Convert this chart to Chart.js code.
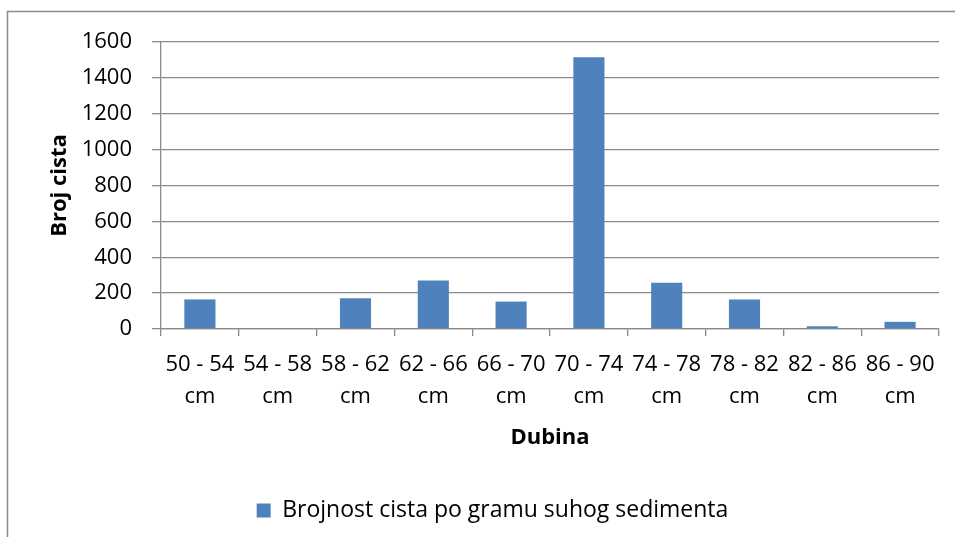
<!DOCTYPE html>
<html>
<head>
<meta charset="utf-8">
<script src="https://cdn.jsdelivr.net/npm/chart.js@4.4.1/dist/chart.umd.min.js"></script>
<style>
  html, body { margin: 0; padding: 0; background: #fff; }
  #wrap { width: 955px; height: 537px; position: relative; }
</style>
</head>
<body>
<div id="wrap"><canvas id="chart" width="955" height="537"></canvas></div>
<script>
// podaci s grafa
const categories = ['50 - 54', '54 - 58', '58 - 62', '62 - 66', '66 - 70',
                    '70 - 74', '74 - 78', '78 - 82', '82 - 86', '86 - 90'];
const unit = 'cm';
const cystCounts = [165, 0, 172, 270, 153, 1515, 258, 165, 15, 40];
const yTicks = [0, 200, 400, 600, 800, 1000, 1200, 1400, 1600];
const seriesName = 'Brojnost cista po gramu suhog sedimenta';
const xTitle = 'Dubina';
const yTitle = 'Broj cista';

const FONT = '"Open Sans", "Noto Sans", sans-serif';
const GRID = '#8a8a8a';

// okvir oko cijelog grafa
const frame = {
  id: 'frame',
  beforeDraw(chart) {
    const c = chart.ctx;
    c.save();
    c.strokeStyle = '#8c8c8c';
    c.lineWidth = 1.5;
    c.strokeRect(7.5, 11.5, 1200, 1200);
    c.restore();
  }
};

new Chart(document.getElementById('chart'), {
  type: 'bar',
  data: {
    labels: categories.map(c => [c, unit]),
    datasets: [{
      label: seriesName,
      data: cystCounts,
      backgroundColor: '#4f81bd',
      borderWidth: 0,
      barPercentage: 0.4,
      categoryPercentage: 1.0
    }]
  },
  options: {
    responsive: false,
    animation: false,
    layout: { padding: { left: 46, right: 16, top: 42, bottom: 5 } },
    plugins: {
      legend: {
        position: 'bottom',
        labels: {
          color: '#000',
          font: { family: FONT, size: 23 },
          boxWidth: 14,
          boxHeight: 14,
          padding: 10
        }
      },
      tooltip: { enabled: false }
    },
    scales: {
      x: {
        afterFit: s => { s.height = 160; },
        grid: { drawOnChartArea: false, drawTicks: true, tickLength: 7, color: GRID, lineWidth: 1.3 },
        border: { color: GRID, width: 1.3 },
        ticks: {
          color: '#000',
          font: { family: FONT, size: 22, lineHeight: 1.45 },
          padding: 13,
          maxRotation: 0,
          autoSkip: false
        },
        title: {
          display: true,
          text: xTitle,
          color: '#000',
          font: { family: FONT, size: 22, weight: 'bold', lineHeight: 1.2 },
          padding: { top: 0, bottom: 38 }
        }
      },
      y: {
        min: 0,
        max: 1600,
        afterFit: s => { s.width = 115; },
        afterBuildTicks: s => { s.ticks = yTicks.map(v => ({ value: v })); },
        grid: { color: GRID, lineWidth: 1.3, tickLength: 9 },
        border: { color: GRID, width: 1.3 },
        ticks: {
          color: '#000',
          font: { family: FONT, size: 22 },
          padding: 20,
          callback: v => String(v)
        },
        title: {
          display: true,
          text: yTitle,
          color: '#000',
          font: { family: FONT, size: 22, weight: 'bold', lineHeight: 1.2 },
          padding: { top: 1, bottom: 0 }
        }
      }
    }
  },
  plugins: [frame]
});
</script>
</body>
</html>
